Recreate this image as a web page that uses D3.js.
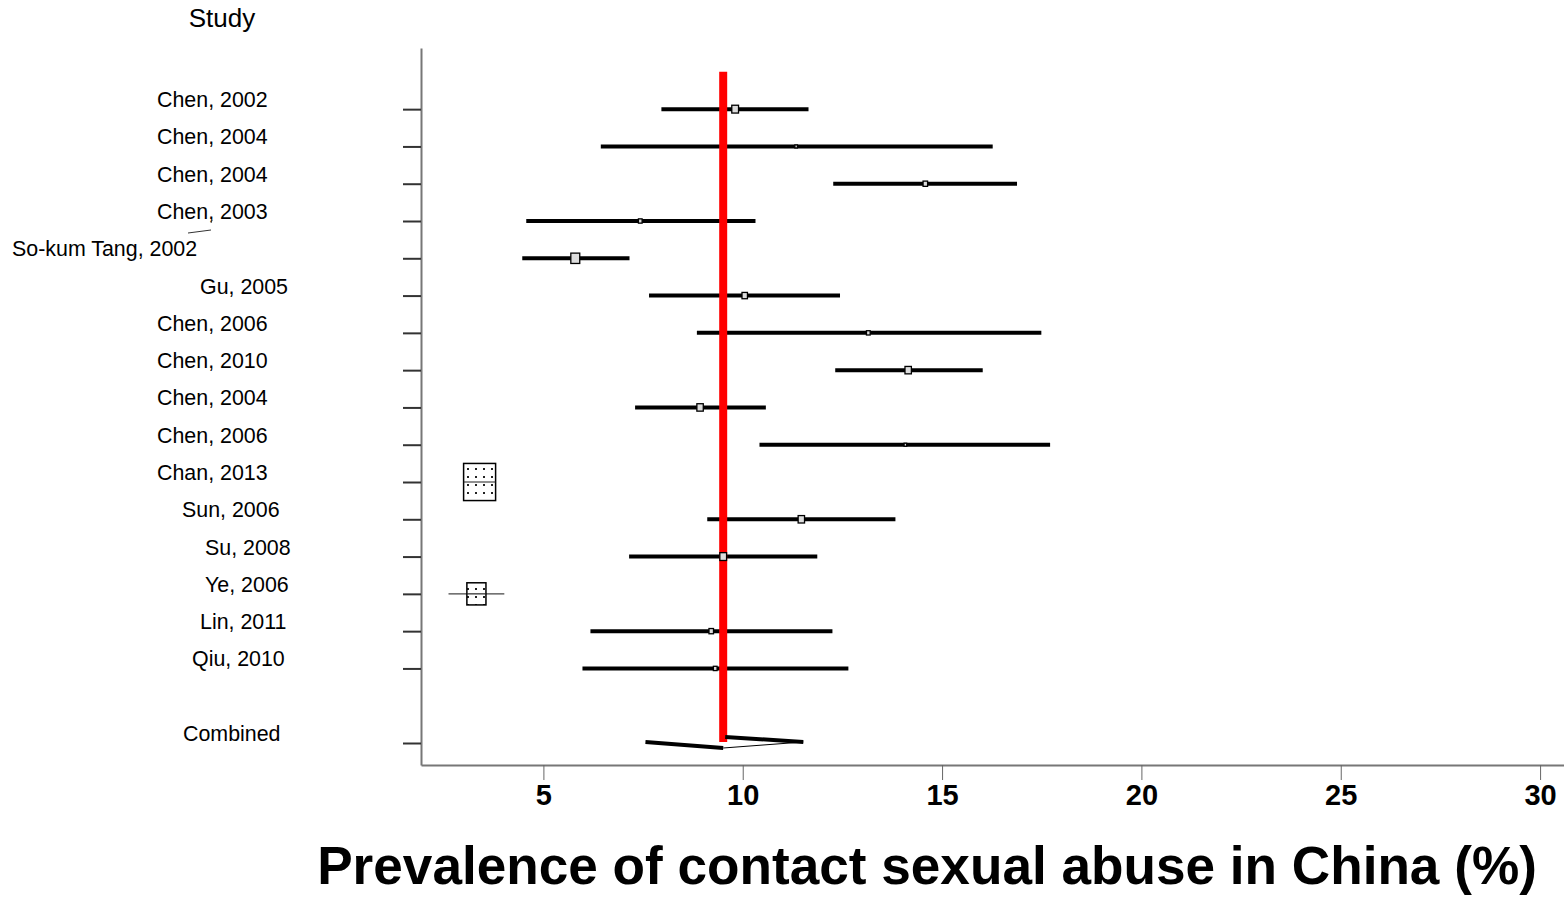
<!DOCTYPE html>
<html>
<head>
<meta charset="utf-8">
<script src="https://cdn.jsdelivr.net/npm/d3@7"></script>
<style>
  html, body { margin: 0; padding: 0; background: #fff; }
  svg { display: block; }
</style>
</head>
<body>
<svg id="chart" width="1564" height="899"></svg>
<script>
// Studies in the meta-analysis (top to bottom)
const studies = [
  "Chen, 2002", "Chen, 2004", "Chen, 2004", "Chen, 2003", "So-kum Tang, 2002",
  "Gu, 2005", "Chen, 2006", "Chen, 2010", "Chen, 2004", "Chen, 2006",
  "Chan, 2013", "Sun, 2006", "Su, 2008", "Ye, 2006", "Lin, 2011", "Qiu, 2010"
];
// Prevalence estimates (%) with 95% confidence limits
const estimates = [9.81, 11.34, 14.58, 7.43, 5.80, 10.05, 13.15, 14.15, 8.93, 14.08, 3.40, 11.47, 9.51, 3.32, 9.21, 9.31];
const lower     = [7.96, 6.44, 12.27, 4.57, 4.47, 7.65, 8.85, 12.32, 7.30, 10.42, 3.00, 9.11, 7.15, 2.62, 6.18, 5.98];
const upper     = [11.65, 16.27, 16.88, 10.32, 7.16, 12.44, 17.49, 16.02, 10.58, 17.71, 3.80, 13.83, 11.87, 4.02, 12.25, 12.65];
// Relative study weights (%)
const weights   = [2.0, 0.3, 0.9, 0.6, 3.5, 1.3, 0.6, 1.8, 1.8, 0.3, 45, 1.8, 2.0, 16, 0.9, 0.6];
// Pooled estimate
const combinedLabel = "Combined";
const combined = { est: 9.51, lo: 7.56, hi: 11.52 };
// Axis ticks
const xTicks = [5, 10, 15, 20, 25, 30];

// Layout
const labelX = [157, 157, 157, 157, 12, 200, 157, 157, 157, 157, 157, 182, 205, 205, 200, 192];
const combinedLabelX = 183;

const svg = d3.select("#chart");
const font = "'Liberation Sans', Arial, Helvetica, sans-serif";

const x = d3.scaleLinear().domain([1.93, 30.6]).range([421, 1564]);
const y = d3.scaleLinear().domain([-1.64, 17.59]).range([48, 765]);
const combinedRow = studies.length + 1;
const boxW = d3.scaleSqrt().domain([0, 45]).range([0, 32]);

// dotted fill used inside the study markers
const defs = svg.append("defs");
const pat = defs.append("pattern").attr("id", "dots")
  .attr("patternUnits", "userSpaceOnUse").attr("width", 8).attr("height", 8);
pat.append("rect").attr("width", 8).attr("height", 8).attr("fill", "#fff");
pat.append("rect").attr("x", 3).attr("y", 4).attr("width", 2).attr("height", 2).attr("fill", "#222");

// x axis
const gx = svg.append("g").attr("transform", `translate(0,765)`)
  .call(d3.axisBottom(x).tickValues(xTicks).tickSize(15).tickSizeOuter(0).tickPadding(4).tickFormat(d3.format("d")));
gx.select(".domain").attr("stroke", "#777").attr("stroke-width", 2);
gx.selectAll(".tick line").attr("stroke", "#666").attr("stroke-width", 1);
gx.selectAll(".tick text").attr("font-family", font).attr("font-weight", "bold")
  .attr("font-size", 29).attr("fill", "#000").attr("dy", "0.72em");

// y axis (one tick per row)
const rowTicks = d3.range(studies.length).concat([combinedRow]);
const gy = svg.append("g").attr("transform", `translate(421,0)`)
  .call(d3.axisLeft(y).tickValues(rowTicks).tickSize(18).tickSizeOuter(0).tickFormat(""));
gy.select(".domain").attr("stroke", "#777").attr("stroke-width", 2);
gy.selectAll(".tick line").attr("stroke", "#333").attr("stroke-width", 2);

// column header
svg.append("text").attr("x", 222).attr("y", 27).attr("text-anchor", "middle")
  .attr("font-family", font).attr("font-size", 26).text("Study");

// study labels
svg.append("g").selectAll("text").data(studies).join("text")
  .attr("x", (d, i) => labelX[i]).attr("y", (d, i) => y(i) - 2)
  .attr("font-family", font).attr("font-size", 21.4).attr("fill", "#000")
  .text(d => d);
svg.append("text").attr("x", combinedLabelX).attr("y", y(combinedRow) - 2)
  .attr("font-family", font).attr("font-size", 21.4).text(combinedLabel);

// small stray stroke beside the So-kum Tang label
svg.append("path").attr("d", "M188,233 L211,230 M211,223 L212,220")
  .attr("stroke", "#333").attr("stroke-width", 1).attr("fill", "none");

// confidence interval lines
const rows = studies.map((s, i) => ({ i, est: estimates[i], lo: lower[i], hi: upper[i], w: boxW(weights[i]) }));
svg.append("g").selectAll("line").data(rows).join("line")
  .attr("x1", d => x(d.lo)).attr("x2", d => x(d.hi))
  .attr("y1", d => y(d.i)).attr("y2", d => y(d.i))
  .attr("stroke", d => d.w > 15 ? "#444" : "#000")
  .attr("stroke-width", d => d.w > 15 ? 1.2 : 4);

// pooled estimate reference line
svg.append("line").attr("x1", x(combined.est)).attr("x2", x(combined.est))
  .attr("y1", y(-1)).attr("y2", y(combinedRow) - 1)
  .attr("stroke", "#ff0000").attr("stroke-width", 8);

// study markers, sized by weight
const boxes = svg.append("g").selectAll("g").data(rows).join("g");
boxes.append("rect")
  .attr("x", d => x(d.est) - d.w / 2).attr("y", d => y(d.i) - d.w * 0.58)
  .attr("width", d => d.w).attr("height", d => d.w * 1.16)
  .attr("fill", d => d.w > 15 ? "url(#dots)" : "#ddd")
  .attr("stroke", "#000").attr("stroke-width", d => d.w > 15 ? 1.5 : 1.3);
boxes.filter(d => d.w > 15).append("line")
  .attr("x1", d => x(d.est) - d.w / 2).attr("x2", d => x(d.est) + d.w / 2)
  .attr("y1", d => y(d.i)).attr("y2", d => y(d.i))
  .attr("stroke", "#222").attr("stroke-width", 1.2);

// pooled diamond
const cy = y(combinedRow);
svg.append("path")
  .attr("d", `M${x(combined.lo)},${cy - 1} L${x(combined.est)},${cy + 5}`)
  .attr("stroke", "#000").attr("stroke-width", 4).attr("fill", "none");
svg.append("path")
  .attr("d", `M${x(combined.est) + 2},${cy - 6} L${x(combined.hi)},${cy - 1}`)
  .attr("stroke", "#000").attr("stroke-width", 4).attr("fill", "none");
svg.append("path")
  .attr("d", `M${x(combined.est)},${cy + 5} L${x(combined.hi)},${cy - 1}`)
  .attr("stroke", "#000").attr("stroke-width", 1).attr("fill", "none");

// axis title, sized to span the plot width
const title = svg.append("text").attr("x", 927).attr("y", 884).attr("text-anchor", "middle")
  .attr("font-family", font).attr("font-weight", "bold").attr("font-size", 50)
  .text("Prevalence of contact sexual abuse in China (%)");
const tw = title.node().getComputedTextLength();
title.attr("font-size", 50 * 1220 / tw);
</script>
</body>
</html>
